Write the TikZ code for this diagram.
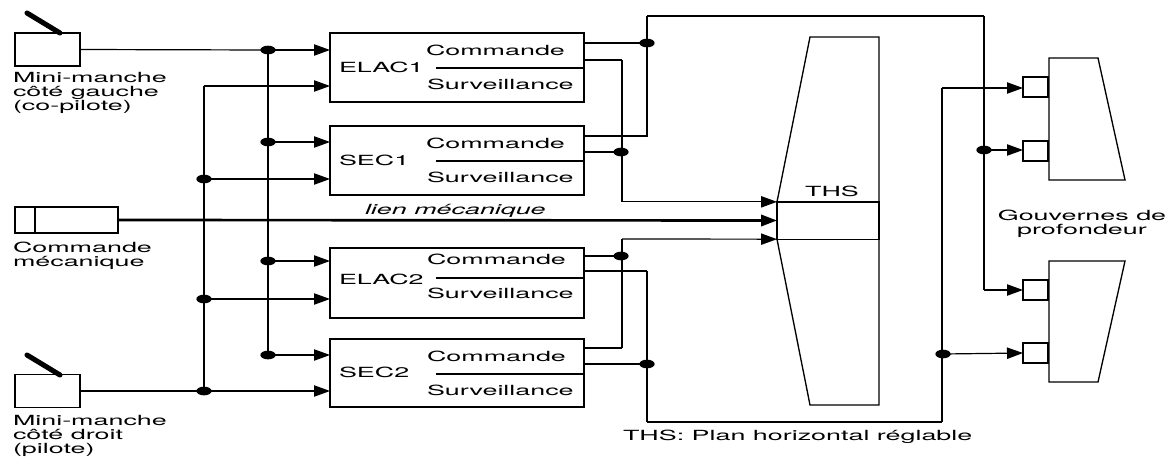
\documentclass[tikz,border=0pt]{standalone}
\usepackage{fontspec}
\setmainfont[FakeStretch=1.92]{TeX Gyre Heros}
\usetikzlibrary{arrows.meta,shapes.geometric}
\tikzset{
  bloc/.style={draw,line width=1pt,inner sep=0pt,outer sep=0pt,minimum width=#1*0.75pt},
  txt/.style={inner sep=0pt,outer sep=0pt,font=\fontsize{10.5}{10.5}\selectfont},
  liaison/.style={line width=0.9pt},
  bus/.style={line width=1.7pt},
  fleche/.style={-{Triangle[length=12pt,width=8.5pt]},line width=0.9pt,shorten >=0pt},
  point/.style={ellipse,fill=black,inner sep=0pt,minimum width=11.5pt,minimum height=6.5pt},
  manche/.style={line width=3.8pt,line cap=round},
  surface/.style={line width=1pt,line join=miter}
}
\begin{document}
\begin{tikzpicture}[x=0.75pt,y=-0.75pt]
  \useasboundingbox (0,0) rectangle (1170,457);
  % mini-manches et commande
  \node[bloc=65,minimum height=24.75pt] (mancheg) at (47.5,49.5) {};
  \node[bloc=65,minimum height=24.75pt] (manched) at (47.5,391) {};
  \node[bloc=103,minimum height=19.5pt] (meca) at (66.5,220) {};
  \coordinate (mecah) at (35,207);
  \coordinate (mecab) at (35,233);
  \draw[line width=1pt] (mecah) -- (mecab);
  \coordinate (mg1) at (27,13);
  \coordinate (mg2) at (60,33);
  \coordinate (md1) at (27,355);
  \coordinate (md2) at (60,375);
  \draw[manche] (mg1) -- (mg2);
  \draw[manche] (md1) -- (md2);
  \node[txt,anchor=west,align=left] (lmg) at (13,93) {Mini-manche\\côté gauche\\(co-pilote)};
  \node[txt,anchor=west,align=left] (lmeca) at (13,255.5) {Commande\\mécanique};
  \node[txt,anchor=west,align=left] (lmd) at (13,435.5) {Mini-manche\\côté droit\\(pilote)};
  % calculateurs
  \node[bloc=254,minimum height=51.75pt] (elac1) at (457,67.5) {};
  \node[bloc=254,minimum height=51.75pt] (sec1) at (457,160.5) {};
  \node[bloc=254,minimum height=52.5pt] (elac2) at (457,283) {};
  \node[bloc=254,minimum height=51pt] (sec2) at (457,373) {};
  \node[txt,anchor=west] (nelac1) at (339,67) {ELAC1};
  \node[txt,anchor=west] (nsec1) at (339,160) {SEC1};
  \node[txt,anchor=west] (nelac2) at (339,279) {ELAC2};
  \node[txt,anchor=west] (nsec2) at (339,372) {SEC2};
  \node[txt,anchor=west] (c1) at (426,50) {Commande};
  \node[txt,anchor=west] (s1) at (427,84) {Surveillance};
  \node[txt,anchor=west] (c2) at (426,143) {Commande};
  \node[txt,anchor=west] (s2) at (427,177) {Surveillance};
  \node[txt,anchor=west] (c3) at (427,259) {Commande};
  \node[txt,anchor=west] (s3) at (427,293) {Surveillance};
  \node[txt,anchor=west] (c4) at (427,356) {Commande};
  \node[txt,anchor=west] (s4) at (427,390) {Surveillance};
  \coordinate (d1) at (436,68);
  \coordinate (d2) at (436,161);
  \coordinate (d3) at (436,278);
  \coordinate (d4) at (436,374);
  \draw[liaison] (d1) -- (d1 -| elac1.east);
  \draw[liaison] (d2) -- (d2 -| sec1.east);
  \draw[liaison] (d3) -- (d3 -| elac2.east);
  \draw[liaison] (d4) -- (d4 -| sec2.east);
  % entrees
  \node[point] (a1) at (268,50) {};
  \node[point] (a2) at (268,142) {};
  \node[point] (a3) at (268,261) {};
  \node[point] (a4) at (268,355) {};
  \node[point] (b1) at (204,179) {};
  \node[point] (b2) at (204,299) {};
  \node[point] (b3) at (204,391) {};
  \coordinate (b0) at (204,86);
  \draw[bus] (a1.center) -- (a4.center);
  \draw[bus] (b0) -- (b3.center);
  \draw[liaison] (mancheg.east) -- (a1.center);
  \draw[liaison] (manched.east) -- (b3.center);
  \draw[fleche] (a1.center) -- (elac1.west |- a1);
  \draw[fleche] (b0) -- (elac1.west |- b0);
  \draw[fleche] (a2.center) -- (sec1.west |- a2);
  \draw[fleche] (b1.center) -- (sec1.west |- b1);
  \draw[fleche] (a3.center) -- (elac2.west |- a3);
  \draw[fleche] (b2.center) -- (elac2.west |- b2);
  \draw[fleche] (a4.center) -- (sec2.west |- a4);
  \draw[fleche] (b3.center) -- (sec2.west |- b3);
  % THS
  \node[bloc=102,minimum height=28pt,fill=white] (ths) at (828,220.5) {};
  \coordinate (tg1) at (810,37);
  \coordinate (td1) at (879,37);
  \coordinate (tg2) at (810,405);
  \coordinate (td2) at (879,405);
  \draw[surface] (ths.north west) -- (tg1) -- (td1) -- (td1 |- ths.north);
  \draw[surface] (ths.south west) -- (tg2) -- (td2) -- (td2 |- ths.south);
  \node[txt] (nths) at (832,191) {THS};
  \node[txt,anchor=west,font=\itshape\fontsize{10.5}{10.5}\selectfont] (lien) at (365,211) {lien mécanique};
  \draw[-{Triangle[length=12pt,width=8.5pt]},line width=2pt] (meca.east) -- (ths.west);
  % gouvernes
  \node[bloc=25,minimum height=15pt] (v1) at (1035.5,87) {};
  \node[bloc=25,minimum height=15pt] (v2) at (1035.5,151) {};
  \node[bloc=25,minimum height=15pt] (v3) at (1035.5,290) {};
  \node[bloc=25,minimum height=15pt] (v4) at (1035.5,353) {};
  \coordinate (g1) at (1049,58);
  \coordinate (g2) at (1098,58);
  \coordinate (g3) at (1125,180);
  \coordinate (g4) at (1049,180);
  \coordinate (g5) at (1049,261);
  \coordinate (g6) at (1125,261);
  \coordinate (g7) at (1098,382);
  \coordinate (g8) at (1049,382);
  \draw[surface] (g1) -- (g2) -- (g3) -- (g4) -- cycle;
  \draw[surface] (g5) -- (g6) -- (g7) -- (g8) -- cycle;
  \node[txt,align=center] (lgouv) at (1082,224) {Gouvernes de\\profondeur};
  \node[txt,anchor=west] (lths) at (623,437) {THS: Plan horizontal réglable};
  % sorties
  \node[point] (p1) at (647,43) {};
  \node[point] (p2) at (621,152) {};
  \node[point] (p3) at (621,256) {};
  \node[point] (p4) at (647,364) {};
  \node[point] (p5) at (984,150) {};
  \node[point] (p6) at (943,354) {};
  \coordinate (o1c) at (584,43);
  \coordinate (o1s) at (584,60);
  \coordinate (o2c) at (584,136);
  \coordinate (o2s) at (584,152);
  \coordinate (o3c) at (584,256);
  \coordinate (o3s) at (584,271);
  \coordinate (o4c) at (584,348);
  \coordinate (o4s) at (584,364);
  \coordinate (h1) at (647,16);
  \coordinate (h2) at (984,16);
  \coordinate (h3) at (622,60);
  \coordinate (h4) at (622,239);
  \coordinate (h5) at (647,422);
  \coordinate (h6) at (942,422);
  \coordinate (h7) at (942,88);
  \coordinate (h8) at (984,290);
  \coordinate (h9) at (647,271);
  \coordinate (h10) at (622,348);
  \draw[liaison] (o1c) -- (p1.center);
  \draw[liaison] (o2s) -- (p2.center);
  \draw[liaison] (o3c) -- (p3.center);
  \draw[liaison] (o4s) -- (p4.center);
  \draw[liaison] (o1s) -- (h3);
  \draw[liaison] (o3s) -- (h9);
  \draw[liaison] (o2c) -| (h1);
  \draw[liaison] (o4c) -- (h10);
  \draw[bus] (h3) -- (h3 |- ths.north);
  \draw[bus] (h10) -- (h4);
  \draw[bus] (h9) -- (h5);
  \draw[bus] (h1 |- o2c) -- (h1);
  \draw[liaison] (h1) -- (h2);
  \draw[bus] (h2) -- (h8);
  \draw[liaison] (h5) -- (h6);
  \draw[bus] (h6) -- (h7);
  \draw[fleche] (h3 |- ths.north) -- (ths.north west);
  \draw[fleche] (h4) -- (ths.south west);
  \draw[fleche] (h7) -- (v1.west |- h7);
  \draw[fleche] (p5.center) -- (v2.west |- p5);
  \draw[fleche] (h8) -- (v3.west);
  \draw[fleche] (p6.center) -- (v4.west);
\end{tikzpicture}
\end{document}
